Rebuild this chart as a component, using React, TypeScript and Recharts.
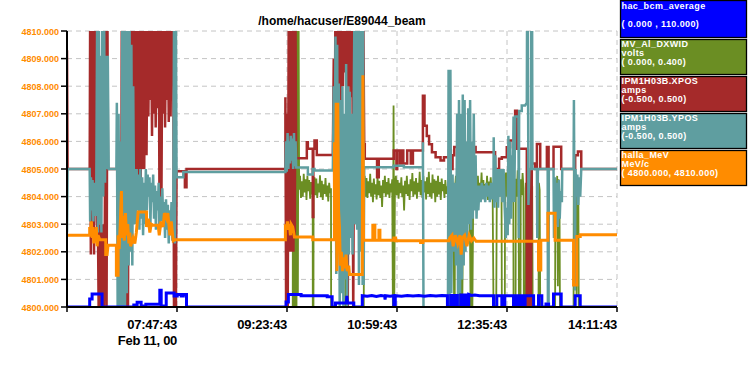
import { LineChart, Line, XAxis, YAxis, CartesianGrid } from "recharts";

// time axis: minutes after 06:11:43, Feb 11 00
const timeTicks = [0, 96, 192, 288, 384, 480];
const timeLabels = ["", "07:47:43", "09:23:43", "10:59:43", "12:35:43", "14:11:43"];
const dateLabel = "Feb 11, 00";
const mevTicks = [4800, 4801, 4802, 4803, 4804, 4805, 4806, 4807, 4808, 4809, 4810];

const title = "/home/hacuser/E89044_beam";

// [minutes, value] samples
const bcmAverage = [
  [0, 0], [19.8, 0], [19.8, 3.2], [21.9, 3.2], [21.9, 5.2], [30.6, 5.2], [30.6, 0], [58.3, 0], [58.3, 0.8], [61.2, 0.8],
  [61.2, 1.9], [64.7, 1.9], [64.7, 0.4], [68.8, 0.4], [68.8, 1.1], [81, 1.1], [81, 6.7], [82.2, 6.7], [82.2, 0.4], [86.6, 0.4],
  [86.6, 5.6], [93.5, 5.6], [93.5, 4.4], [96.2, 4.4], [96.2, 5.0], [99.7, 5.0], [99.7, 4.4], [101.5, 4.4], [101.5, 5.0], [104.3, 5.0],
  [104.3, 0], [191.2, 0], [191.2, 2.0], [193.2, 2.0], [193.2, 5.0], [204.3, 5.0], [204.3, 4.5], [227.1, 4.5], [227.1, 4.1], [231.4, 4.1],
  [231.4, 0], [234.3, 0], [234.3, 1.6], [243.8, 1.6], [244.2, 4.4], [244.8, 1.6], [250.3, 1.6], [250.3, 0], [257.7, 0], [257.7, 4.5],
  [262, 4.3], [266, 4.6], [270, 4.2], [274, 4.6], [277.2, 4.4], [277.6, 3.0], [278, 4.5], [282, 4.3], [285.2, 4.5], [285.2, 0.3],
  [286.5, 0.3], [286.5, 4.5], [292, 4.3], [297, 4.6], [302, 4.4], [307, 4.6], [312, 4.3], [317, 4.6], [322, 4.4], [327, 4.6],
  [332, 4.5], [332, 0], [334.9, 0], [334.9, 4.6], [337.5, 4.6], [337.5, 0.5], [338.5, 0.5], [338.5, 4.6], [340.7, 4.6], [340.7, 0],
  [343.6, 0], [343.6, 4.8], [346, 4.8], [346, 0], [347.5, 0], [347.5, 4.8], [349.5, 4.8], [349.5, 0.5], [350.6, 0.5], [350.6, 5.0],
  [353, 4.6], [356, 4.8], [360, 4.5], [372.2, 4.5], [372.2, 0], [375.1, 0], [375.1, 4.5], [379.5, 4.5], [379.5, 0], [382.1, 0],
  [382.1, 4.5], [389.7, 4.5], [389.7, 0], [391.5, 0], [391.5, 4.5], [394, 4.5], [394, 1.0], [396, 1.0], [396, 4.5], [398, 4.5],
  [398, 0], [399.8, 0], [399.8, 4.5], [407.2, 4.5], [407.2, 0], [411.5, 0], [411.5, 4.5], [414.4, 4.5], [414.4, 0], [418, 0],
  [418, 1.2], [420.3, 1.2], [420.3, 0], [424.6, 0], [424.6, 5.2], [431.3, 5.2], [431.3, 0], [443.5, 0], [443.5, 4.5], [447.9, 4.5],
  [447.9, 0], [480, 0],
];

const dxwid = [
  [0, 0], [197, 0], [197.3, 0.45], [197.9, 0], [198.5, 0.45], [199.1, 0], [199.7, 0.45], [200.3, 0], [200.9, 0.45], [201.5, 0.02],
  [202.1, 0.45], [202.6, 0.17], [203.4, 0.19], [204.2, 0.158], [205, 0.182], [205.8, 0.16], [206.6, 0.193], [207.4, 0.166], [208.2, 0.185], [209, 0.155],
  [209.8, 0.19], [210.6, 0.168], [211.4, 0.184], [212.2, 0.157], [213, 0.181], [213.8, 0.163], [214.4, 0.176], [214.5, 0], [215.1, 0], [215.2, 0.172],
  [216, 0.188], [216.8, 0.162], [217.6, 0.186], [218.4, 0.158], [219.2, 0.179], [220, 0.166], [220.8, 0.191], [221.6, 0.159], [222.4, 0.183], [223.2, 0.155],
  [224, 0.178], [224.8, 0.164], [225.6, 0.187], [226.4, 0.16], [227.2, 0.176], [228, 0.153], [228.8, 0.18], [229.6, 0.165], [230.4, 0.172], [230.5, 0],
  [242.8, 0], [243, 0.11], [243.4, 0], [259, 0], [259.2, 0.17], [259.8, 0.19], [260.6, 0.16], [261.4, 0.187], [262.2, 0.158], [263, 0.182],
  [263.8, 0.165], [264.6, 0.193], [265.4, 0.16], [266.2, 0.18], [267, 0.152], [267.8, 0.186], [268.6, 0.163], [269.4, 0.178], [270.2, 0.156], [271, 0.189],
  [271.8, 0.162], [272.6, 0.183], [273.4, 0.158], [274.2, 0.176], [275, 0.145], [275.8, 0.184], [276.6, 0.165], [277.4, 0.19], [278.2, 0.16], [279, 0.181],
  [279.8, 0.163], [280.6, 0.187], [281.4, 0.158], [282.2, 0.179], [283, 0.166], [283.8, 0.185], [284.4, 0], [285, 0.292], [285.6, 0], [286.2, 0.175],
  [287, 0.19], [287.8, 0.162], [288.6, 0.184], [289.4, 0.157], [290.2, 0.18], [291, 0.165], [291.8, 0.188], [292.6, 0.159], [293.4, 0.176], [294.2, 0.14],
  [295, 0.183], [295.8, 0.164], [296.6, 0.19], [297.4, 0.161], [298.2, 0.178], [299, 0.155], [299.8, 0.185], [300.6, 0.168], [301.4, 0.194], [302.2, 0.16],
  [303, 0.182], [303.8, 0.163], [304.6, 0.187], [305.4, 0.157], [306.2, 0.18], [307, 0.167], [307.8, 0.196], [308.6, 0.162], [309.4, 0.184], [310.2, 0.158],
  [311, 0.19], [311.8, 0.166], [312.6, 0.182], [313.4, 0.156], [314.2, 0.188], [315, 0.164], [315.8, 0.196], [316.6, 0.16], [317.4, 0.18], [318.2, 0.157],
  [319, 0.192], [319.8, 0.165], [320.6, 0.185], [321.4, 0.152], [322.2, 0.183], [323, 0.16], [323.8, 0.19], [324.6, 0.163], [325.4, 0.181], [326.2, 0.155],
  [327, 0.186], [327.8, 0.168], [328.6, 0.178], [329.4, 0.158], [330.2, 0.184], [331, 0.164], [331.8, 0.175], [332.6, 0.158], [333.4, 0.19], [334.2, 0.16],
  [335, 0.196], [335.8, 0.168], [336.6, 0.18], [337.4, 0.16], [337.8, 0], [338.4, 0], [338.6, 0.172], [339.4, 0.19], [340.2, 0.155], [341, 0.175],
  [341.8, 0], [342.6, 0.17], [343.4, 0], [344.2, 0.16], [345, 0], [345.8, 0.185], [346.6, 0.16], [347.4, 0.193], [348.2, 0.165], [349, 0.182],
  [349.8, 0.158], [350.6, 0.186], [351.4, 0.167], [352.2, 0], [353, 0.18], [353.8, 0], [354.6, 0.175], [355.4, 0.19], [356.2, 0.158], [357, 0.183],
  [357.8, 0.165], [358.6, 0.19], [359.4, 0.157], [360.2, 0.18], [361, 0.166], [361.8, 0.195], [362.6, 0.16], [363.4, 0.184], [364.2, 0.158], [365, 0.178],
  [365.8, 0.163], [366.6, 0.19], [367.4, 0.155], [368.2, 0.182], [369, 0.167], [369.8, 0.188], [370.6, 0.16], [371.4, 0.18], [372.2, 0], [374.6, 0],
  [375.1, 0.17], [376, 0.19], [376.8, 0.16], [377.6, 0.185], [378.4, 0.165], [379.2, 0.18], [379.5, 0], [382.1, 0], [382.3, 0.175], [383.1, 0.195],
  [383.9, 0.16], [384.7, 0.2], [385.5, 0.163], [386.3, 0.188], [387.1, 0.158], [387.9, 0.193], [388.7, 0.167], [389.5, 0.18], [389.7, 0], [391.5, 0],
  [391.7, 0.186], [392.5, 0.16], [393.3, 0.198], [394.1, 0.17], [394.4, 0], [395.8, 0], [396, 0.185], [396.8, 0.162], [397.6, 0.194], [398.4, 0.172],
  [398.7, 0], [400.2, 0], [400.4, 0.18], [401.2, 0.165], [402, 0.19], [402.8, 0.16], [403.6, 0.185], [404.4, 0.168], [405.2, 0.18], [406, 0.175],
  [406.4, 0], [411.5, 0], [411.8, 0.18], [412.5, 0.17], [413, 0], [426, 0], [426.2, 0.18], [427, 0.16], [427.8, 0.19], [428.4, 0.03],
  [429, 0.185], [429.8, 0.165], [430.2, 0], [442.1, 0], [442.3, 0.2], [443.1, 0.16], [443.9, 0.19], [444.7, 0.015], [445.5, 0.18], [446.3, 0.16],
  [446.6, 0], [480, 0],
];

const xpos = [
  [0, 0.43], [0.5, 0], [19.8, 0], [20.2, 0.55], [20.8, -0.31], [21.5, 0.55], [22.2, -0.25], [23, 0.55], [23.6, -0.31], [24.2, 0.55],
  [24.9, 0.265], [25.6, 0.55], [26.2, -0.19], [27.1, -0.26], [27.6, -0.5], [28.3, -0.2], [29, -0.55], [29.8, -0.22], [30.6, -0.55], [31.4, -0.2],
  [32.2, -0.5], [33, -0.2], [33.8, 0.55], [34.5, -0.55], [35.3, 0.55], [35.8, 0], [47.5, 0], [47.8, 0.55], [48.5, -0.55], [49.3, 0.55],
  [50, -0.55], [50.8, 0.55], [51.6, -0.55], [52.4, 0.55], [53.2, -0.55], [54, 0.55], [54.8, 0], [55.5, 0.55], [56.2, -0.02], [57, 0.55],
  [57.8, 0], [58.5, 0.55], [59.2, -0.02], [60, 0.55], [60.8, -0.13], [61.6, 0.55], [62.5, -0.1], [63.3, 0.55], [64.2, -0.13], [65, 0.55],
  [65.8, 0], [66.6, 0.55], [67.4, 0], [68.2, 0.55], [69.4, 0.05], [70.2, 0.55], [71, 0.19], [71.8, 0.55], [72.6, 0.25], [73.4, 0.55],
  [74.2, 0.12], [75, 0.55], [75.8, 0.2], [76.6, 0.55], [77.4, 0.15], [78.2, 0.55], [79, 0.22], [80, 0.55], [80.8, -0.2], [81.6, 0.55],
  [82.4, -0.13], [83.2, 0.55], [84, 0.2], [84.8, 0.55], [85.6, 0.15], [86.4, 0.55], [87.2, 0.25], [88, 0.55], [88.8, 0.17], [89.6, 0.55],
  [90.4, 0.19], [91.2, 0.55], [92, 0.3], [92.7, 0.55], [93.4, -0.55], [94.2, 0.55], [95, -0.55], [95.6, -0.008], [102.9, -0.008], [102.9, -0.066],
  [104.3, -0.066], [104.3, 0], [190.6, 0], [190.6, 0.26], [191.2, -0.5], [191.8, 0.2], [192.6, -0.55], [193.5, 0.55], [194.2, -0.3], [194.7, 0.55],
  [195.4, -0.3], [195.9, 0.55], [196.5, -0.3], [197, 0.55], [197.6, -0.3], [198.2, 0.55], [198.8, -0.25], [199.4, 0.55], [200, 0.039], [209.3, 0.039],
  [209.3, 0.097], [210.2, 0.097], [210.2, 0.073], [214.5, 0.073], [214.5, -0.174], [215, -0.174], [215, 0.073], [216, 0.073], [216, 0.103], [218, 0.103],
  [218, 0.051], [232, 0.051], [232.8, 0.4], [233.4, -0.25], [234.2, 0.55], [234.9, 0.1], [235.6, 0.55], [236.3, 0.2], [237, 0.55], [237.8, 0.3],
  [238.5, 0.55], [239.2, 0.24], [240, 0.55], [240.8, 0.3], [241.6, 0.55], [242.4, 0.35], [243.2, 0.55], [244, 0.28], [244.5, 0.55], [245, -0.55],
  [245.9, 0.55], [246.6, 0.3], [247.4, 0.55], [248.2, 0.26], [249, 0.55], [249.8, -0.55], [250.3, 0], [257, 0], [257, 0.55], [257.8, 0.09],
  [258.6, 0.55], [259.4, 0.09], [259.9, 0.09], [259.9, 0.037], [270.6, 0.037], [270.6, -0.03], [272.1, -0.03], [272.1, 0.037], [285.2, 0.037], [285.2, 0.067],
  [287.5, 0.067], [287.5, 0], [288.2, 0], [288.2, 0.067], [290.5, 0.067], [290.5, 0.02], [292.5, 0.02], [292.5, 0.067], [293.5, 0.067], [293.5, 0.02],
  [296.9, 0.02], [296.9, 0.067], [300, 0.067], [300, 0.02], [301.9, 0.02], [301.9, 0.067], [310.6, 0.067], [310.6, 0.265], [312, 0.265], [312, 0.157],
  [314, 0.157], [314, 0.12], [316, 0.12], [316, 0.09], [318.5, 0.09], [318.5, 0.061], [321.7, 0.061], [321.7, 0.043], [326, 0.043], [326, 0.031],
  [329, 0.031], [329, 0.043], [333.4, 0.043], [333.4, 0.067], [335, 0.067], [335, 0], [336.5, 0], [336.5, 0.05], [338, 0.05], [338, 0.08],
  [340.6, 0.08], [340.6, 0.02], [343, 0.02], [343, 0.06], [346, 0.06], [346, 0], [348, 0], [348, 0.08], [351, 0.08], [351, 0.05],
  [354, 0.05], [354, 0.08], [356.6, 0.08], [356.6, 0.061], [373.6, 0.061], [373.6, 0], [377.1, 0], [377.1, 0.037], [379.5, 0.037], [379.5, 0.043],
  [383.8, 0.043], [383.8, 0.079], [386.7, 0.079], [386.7, 0.103], [391.1, 0.103], [391.1, 0.211], [392.6, 0.211], [392.6, 0.073], [401.3, 0.073], [401.3, -0.55],
  [402.2, 0.073], [403.1, -0.55], [404, 0], [404.8, -0.55], [405.7, 0.02], [408.6, 0.02], [408.6, 0], [410.1, 0], [410.1, 0.091], [413, 0.091],
  [413, 0], [418.8, 0], [418.8, 0.08], [420.3, 0.08], [420.3, 0], [424.6, 0], [424.6, 0.081], [431.3, 0.081], [431.3, 0], [443.5, 0],
  [443.5, 0.05], [445.9, 0.05], [445.9, 0.063], [448.8, 0.063], [448.8, 0], [480, 0],
];

const ypos = [
  [0, -0.23], [0.5, 0], [19.8, 0], [20.2, -0.19], [20.9, -0.03], [21.6, -0.15], [22.3, -0.04], [23, -0.19], [23.7, -0.05], [24.2, -0.1],
  [24.9, -0.17], [25.6, -0.05], [26.3, 0.55], [27, -0.23], [27.8, 0.55], [28.5, -0.2], [29.3, 0.41], [30, -0.23], [30.8, 0.55], [31.6, -0.1],
  [32.4, 0.55], [33.2, -0.05], [34, 0.41], [34.8, 0], [35.6, 0.41], [36.4, 0], [43.1, 0], [43.5, 0.24], [44.2, -0.5], [45, 0.2],
  [45.8, -0.5], [46.6, 0.1], [47.5, -0.5], [48.2, 0.55], [49, -0.5], [49.8, 0.55], [50.6, -0.5], [51.4, 0.55], [52.2, -0.45], [53, 0.55],
  [53.8, -0.35], [54.6, 0.55], [55.4, -0.3], [56.2, 0.45], [57, -0.35], [57.8, 0.3], [58.6, -0.2], [59.2, 0], [60, -0.2], [60.8, 0],
  [61.6, -0.15], [62.4, -0.02], [63.2, -0.22], [64, 0], [64.8, -0.18], [65.6, -0.03], [66.4, -0.24], [67.2, -0.05], [68, -0.2], [68.8, 0],
  [69.6, -0.15], [70.4, -0.02], [71.2, -0.1], [72, -0.03], [72.8, -0.2], [73.6, -0.05], [74.4, -0.12], [75.2, -0.02], [76, -0.18], [76.8, -0.06],
  [77.6, -0.22], [78.4, -0.08], [79.2, -0.15], [80, -0.05], [80.8, -0.23], [81.6, -0.1], [82.4, -0.19], [83.2, -0.07], [84, -0.2], [84.8, -0.12],
  [85.6, -0.25], [86.4, -0.11], [87.2, -0.22], [88, -0.13], [88.8, -0.27], [89.6, -0.15], [90.4, -0.24], [91.2, -0.12], [92, -0.26], [92.7, -0.2],
  [93.4, 0.55], [94.2, -0.27], [95, 0.55], [95.6, -0.03], [101.5, -0.03], [101.5, -0.011], [190.6, -0.011], [191.2, 0.1], [191.8, -0.01], [192.5, 0.13],
  [193.2, 0], [193.9, 0.1], [194.6, 0.02], [195.3, 0.12], [196, 0.03], [196.7, 0.11], [197.4, 0], [198.1, 0.13], [198.8, 0.01], [199.5, 0.1],
  [200, 0.005], [210.2, 0.005], [210.2, -0.02], [214.5, -0.02], [214.5, 0], [216, 0], [216, -0.005], [232, -0.005], [232.8, 0.3], [233.5, -0.2],
  [234.3, 0.48], [235, -0.38], [235.8, 0.45], [236.5, -0.3], [237.2, 0.31], [238, -0.5], [238.8, 0.25], [239.6, -0.45], [240.4, 0.3], [241.2, -0.5],
  [242, 0.2], [242.8, -0.4], [243.6, 0.38], [244.4, -0.5], [245.2, 0.3], [246, -0.31], [246.8, 0.28], [247.6, -0.25], [248.4, 0.2], [249.2, -0.31],
  [250, 0.1], [250.8, 0.55], [251.6, -0.2], [252.4, 0.55], [253.2, -0.22], [254, 0.55], [254.8, -0.42], [255.6, 0.55], [256.4, -0.3], [257.2, 0.55],
  [258, -0.42], [258.4, 0.55], [258.9, -0.42], [259.4, 0.006], [285, 0.006], [285, 0.012], [294, 0.012], [294, 0.006], [310.6, 0.006], [310.6, 0.097],
  [311.2, -0.6], [332.4, -0.6], [333, 0.36], [333.8, -0.5], [334.6, 0.36], [335.4, -0.45], [336.5, -0.02], [337.5, -0.3], [338.5, -0.05],
  [339.5, -0.35], [340.5, 0.2], [341.3, -0.5], [342.1, 0.25], [343, -0.45], [343.8, 0.2], [344.6, -0.4], [345.4, 0.27], [346.2, -0.35], [347, 0.25],
  [347.8, -0.3], [348.6, 0.1], [349.4, -0.25], [350.2, 0.22], [351, -0.2], [351.8, 0.25], [352.6, -0.22], [353.4, 0.1], [354.2, -0.18], [355, 0.2],
  [355.8, -0.15], [356.6, 0.05], [357.4, -0.18], [358.2, -0.06], [359, -0.15], [360, -0.06], [361, -0.12], [362, -0.05], [363, -0.11], [364, -0.06],
  [365, -0.12], [366, -0.05], [367, -0.1], [368, -0.06], [369, -0.12], [370, -0.05], [371, -0.11], [372.2, -0.06], [372.4, 0.115], [373, -0.14],
  [373.8, 0.05], [374.6, -0.12], [375.4, 0], [376.2, -0.14], [377, 0], [378, -0.1], [379, 0], [380, -0.12], [381, 0], [382, -0.14],
  [383, -0.25], [383.8, -0.14], [384.6, -0.24], [385.2, 0.12], [386, -0.2], [386.8, 0.1], [387.6, -0.18], [388.2, 0.05], [389, -0.12], [389.7, 0.19],
  [390.4, -0.12], [391.1, 0.19], [394, 0.19], [394.3, -0.25], [394.6, 0.21], [396.9, 0.21], [396.9, 0.23], [399.8, 0.23], [401.3, 0.24], [401.5, 0.55],
  [402.2, 0.55], [402.7, -0.13], [403.5, 0], [405, 0], [405.2, 0.55], [405.9, 0.55], [406.2, 0], [410.1, 0], [410.4, -0.25], [411, 0],
  [419.5, 0], [419.7, -0.48], [420.3, -0.48], [420.5, 0], [424.6, 0], [425, -0.25], [426, -0.03], [426.8, -0.2], [427.6, -0.05], [428.4, -0.21],
  [429.2, -0.04], [430, -0.18], [430.8, -0.08], [431.9, -0.12], [432.2, 0], [442.1, 0], [442.4, 0.25], [443.2, -0.44], [443.8, 0], [444.6, -0.1],
  [445.4, -0.02], [446.2, -0.13], [447, -0.03], [447.9, -0.1], [448.8, 0], [480, 0],
];

const hallaMeV = [
  [0, 4802.6], [19.8, 4802.6], [19.8, 4802.9], [20.5, 4802.7], [21.3, 4803.1], [22, 4802.5], [22.7, 4802.9], [23.4, 4802.3], [24.2, 4802.8], [25, 4802.4],
  [25.6, 4802.9], [26.3, 4802.2], [27.1, 4802.6], [28.6, 4802.44], [33.8, 4802.44], [33.8, 4801.9], [35, 4801.9], [35.8, 4802.24], [43.1, 4802.24], [43.1, 4801.15],
  [44.6, 4801.15], [44.6, 4802.6], [45.5, 4802.1], [46.5, 4803.0], [47.5, 4804.2], [48, 4802.5], [49, 4803.3], [50, 4802.4], [51, 4803.4], [51.9, 4802.6],
  [53, 4803.0], [54, 4802.3], [54.8, 4802.7], [55.5, 4802.2], [57.7, 4802.5], [59.2, 4802.3], [60.5, 4802.7], [62.1, 4803.44], [69.4, 4803.44], [69.4, 4802.9],
  [71, 4803.2], [72.3, 4802.7], [73.5, 4803.0], [75.2, 4802.96], [79.6, 4802.96], [80.5, 4802.6], [82, 4803.1], [83.9, 4802.9], [85, 4803.4], [86.9, 4803.2],
  [88, 4803.4], [89.8, 4802.6], [91, 4803.1], [92.7, 4802.4], [94.2, 4802.44], [190.6, 4802.44], [190.6, 4803.0], [191.5, 4802.8], [192.4, 4803.1], [193.2, 4802.8],
  [194.1, 4803.0], [195, 4802.6], [195.6, 4803.0], [197, 4802.9], [198.5, 4802.54], [214.5, 4802.54], [214.5, 4802.44], [233.4, 4802.44], [233.4, 4805.97], [234.2, 4803.2],
  [234.9, 4807.4], [235.5, 4801.3], [236.3, 4807.4], [237, 4803.5], [237.8, 4802.9], [238.5, 4801.5], [239.5, 4802.0], [240.5, 4801.3], [241.5, 4801.8], [242.5, 4801.4],
  [243.5, 4801.9], [244.5, 4801.3], [245.9, 4801.5], [246.5, 4801.18], [257.7, 4801.18], [258.2, 4808.4], [258.8, 4802.42], [266.9, 4802.42], [266.9, 4802.96], [268.7, 4802.96],
  [268.7, 4802.42], [272.2, 4802.42], [272.2, 4802.78], [273.1, 4802.78], [273.1, 4802.42], [285.3, 4802.42], [285.3, 4802.5], [286.8, 4802.5], [286.8, 4802.4], [308.6, 4802.4],
  [308.6, 4802.34], [310.6, 4802.34], [310.6, 4802.4], [333.4, 4802.4], [334, 4802.5], [336, 4802.6], [337, 4802.2], [339, 4802.6], [341, 4802.3], [343, 4802.6],
  [344, 4801.9], [345, 4802.5], [347, 4802.6], [349, 4802.2], [351, 4802.6], [353, 4802.4], [355, 4802.5], [357, 4802.38], [411.5, 4802.38], [411.5, 4801.34],
  [413.5, 4801.34], [413.5, 4802.42], [419.7, 4802.42], [419.7, 4803.4], [426, 4803.4], [426, 4802.42], [442.1, 4802.42], [442.1, 4800.8], [445, 4800.8], [445, 4802.55],
  [447.9, 4802.55], [447.9, 4802.62], [480, 4802.62],
];

const rows = (pts: number[][]) => pts.map(([t, v]) => ({ t, v }));

const legendItems = [
  { color: "#0000ff", lines: ["hac_bcm_average", "", "( 0.000 , 110.000)"] },
  { color: "#6b8e23", lines: ["MV_Al_DXWID", "volts", "( 0.000, 0.400)"] },
  { color: "#a52a2a", lines: ["IPM1H03B.XPOS", "amps", "(-0.500, 0.500)"] },
  { color: "#5f9ea0", lines: ["IPM1H03B.YPOS", "amps", "(-0.500, 0.500)"] },
  { color: "#ff8c00", lines: ["halla_MeV", "MeV/c", "( 4800.000, 4810.000)"] },
];

const TimeTick = ({ x, y, payload }: any) => {
  const i = timeTicks.indexOf(payload.value);
  return (
    <g>
      <text x={x} y={y + 15} textAnchor="end" fontSize={13} fontWeight="bold" fill="#000" letterSpacing={-0.3}>
        {timeLabels[i]}
      </text>
      {i === 1 && (
        <text x={x} y={y + 31} textAnchor="end" fontSize={13} fontWeight="bold" fill="#000" letterSpacing={-0.3}>
          {dateLabel}
        </text>
      )}
    </g>
  );
};

const MevTick = ({ x, y, payload }: any) => (
  <text x={x} y={y + 3.5} textAnchor="end" fontSize={9} fontWeight="bold" fill="#ff8c00">
    {Number(payload.value).toFixed(3)}
  </text>
);

export default function App() {
  return (
    <div style={{ position: "absolute", left: 0, top: 0, width: 748, height: 375, background: "#fff", fontFamily: "'Liberation Sans', Arial, sans-serif" }}>
      <LineChart width={748} height={375} data={rows(hallaMeV)} margin={{ top: 31, right: 131, bottom: 0, left: 0 }}>
        <CartesianGrid xAxisId={0} yAxisId="mev" stroke="#c4c4c4" strokeDasharray="5 4" />
        <XAxis
          dataKey="t"
          type="number"
          domain={[0, 480]}
          ticks={timeTicks}
          allowDataOverflow
          height={68}
          tickSize={5}
          axisLine={{ stroke: "#000", strokeWidth: 2 }}
          tickLine={{ stroke: "#000", strokeWidth: 1.5 }}
          tick={<TimeTick />}
        />
        <YAxis
          yAxisId="mev"
          orientation="left"
          domain={[4800, 4810]}
          ticks={mevTicks}
          allowDataOverflow
          width={67}
          tickSize={6}
          axisLine={{ stroke: "#000", strokeWidth: 2 }}
          tickLine={{ stroke: "#000", strokeWidth: 1.5 }}
          tick={<MevTick />}
        />
        <YAxis yAxisId="bcm" orientation="right" hide width={0} domain={[0, 110]} allowDataOverflow />
        <YAxis yAxisId="dxwid" orientation="right" hide width={0} domain={[0, 0.4]} allowDataOverflow />
        <YAxis yAxisId="xpos" orientation="right" hide width={0} domain={[-0.5, 0.5]} allowDataOverflow />
        <YAxis yAxisId="ypos" orientation="right" hide width={0} domain={[-0.5, 0.5]} allowDataOverflow />
        <Line data={rows(dxwid)} dataKey="v" yAxisId="dxwid" type="linear" stroke="#6b8e23" strokeWidth={1.8} dot={false} isAnimationActive={false} />
        <Line data={rows(xpos)} dataKey="v" yAxisId="xpos" type="linear" stroke="#a52a2a" strokeWidth={2.5} dot={false} isAnimationActive={false} />
        <Line data={rows(ypos)} dataKey="v" yAxisId="ypos" type="linear" stroke="#5f9ea0" strokeWidth={2.5} dot={false} isAnimationActive={false} />
        <Line data={rows(hallaMeV)} dataKey="v" yAxisId="mev" type="linear" stroke="#ff8c00" strokeWidth={3} dot={false} isAnimationActive={false} />
        <Line data={rows(bcmAverage)} dataKey="v" yAxisId="bcm" type="linear" stroke="#0000ff" strokeWidth={3} dot={false} isAnimationActive={false} />
      </LineChart>
      <svg width={748} height={375} style={{ position: "absolute", left: 0, top: 0, pointerEvents: "none" }}>
        <text x={342} y={24.5} textAnchor="middle" fontSize={12} fontWeight="bold" fill="#000">
          {title}
        </text>
        {legendItems.map((item, i) => {
          const top = i === 0 ? 0 : 2 + i * 37;
          const h = i === 0 ? 38 : 36;
          const first = i === 0 ? 8.5 : top + 7.5;
          return (
            <g key={item.lines[0]}>
              <rect x={620.5} y={top + 0.5} width={126} height={h - 1} fill={item.color} stroke="#000" strokeWidth={1.3} />
              {item.lines.map((ln, j) => (
                <text key={j} x={621.5} y={first + j * 9} fontSize={9} fontWeight="bold" fill="#fff" letterSpacing={0.4}>
                  {ln}
                </text>
              ))}
            </g>
          );
        })}
      </svg>
    </div>
  );
}
